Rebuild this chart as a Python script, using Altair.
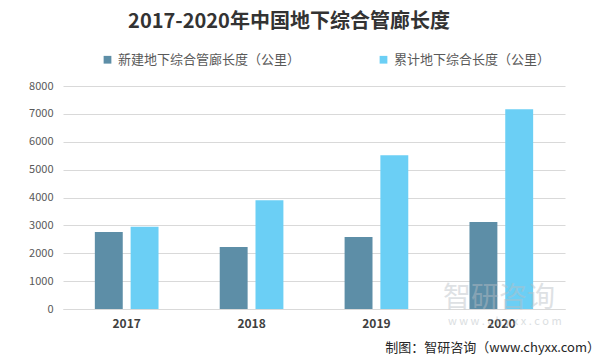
import altair as alt
import pandas as pd

years = ["2017", "2018", "2019", "2020"]
series = ["新建地下综合管廊长度（公里）", "累计地下综合长度（公里）"]
new_len = [2760, 2220, 2580, 3120]
cum_len = [2950, 3900, 5520, 7170]
colors = ["#5d8ea7", "#6bcff5"]
y_ticks = [0, 1000, 2000, 3000, 4000, 5000, 6000, 7000, 8000]
title_text = "2017-2020年中国地下综合管廊长度"
source_text = "制图：智研咨询（www.chyxx.com）"
watermark = "智研咨询"
watermark_url = "w w w . c h y x x . c o m"

rows = []
for i, y in enumerate(years):
    rows.append({"year": y, "series": series[0], "value": new_len[i]})
    rows.append({"year": y, "series": series[1], "value": cum_len[i]})
df = pd.DataFrame(rows)

FONT = "Noto Sans CJK SC"

bars = alt.Chart(df).mark_bar().encode(
    x=alt.X("year:N", sort=years,
            scale=alt.Scale(paddingInner=0.49, paddingOuter=0.255),
            axis=alt.Axis(title=None, labelAngle=0, labelFontWeight="bold",
                          labelFontSize=12, labelColor="#404040", labelFont=FONT,
                          domainColor="#d9d9d9", ticks=False, labelPadding=9)),
    xOffset=alt.XOffset("series:N", sort=series,
                        scale=alt.Scale(paddingInner=0.22, paddingOuter=0)),
    y=alt.Y("value:Q", scale=alt.Scale(domain=[0, 8000]),
            axis=alt.Axis(values=y_ticks, format="d", title=None, domain=False, ticks=False,
                          gridColor="#d9d9d9", labelColor="#595959", labelFontSize=11,
                          labelPadding=10, labelFont=FONT)),
    color=alt.Color("series:N", sort=series,
                    scale=alt.Scale(domain=series, range=colors),
                    legend=alt.Legend(title=None, orient="none", direction="horizontal",
                                      legendX=38, legendY=-33, symbolType="square",
                                      symbolSize=60, symbolStrokeWidth=0,
                                      labelFontSize=13, labelColor="#595959",
                                      labelFont=FONT, columnPadding=76,
                                      labelLimit=300)),
)

ttl = alt.Chart(pd.DataFrame({"t": [title_text]})).mark_text(
    align="center", baseline="middle", fontSize=20, font=FONT, fontWeight="bold",
    color="#333333"
).encode(x=alt.value(226), y=alt.value(-64), text="t:N")

src = alt.Chart(pd.DataFrame({"t": [source_text]})).mark_text(
    align="right", baseline="middle", fontSize=13, font=FONT, color="#262626"
).encode(x=alt.value(537), y=alt.value(262), text="t:N")

wm = alt.Chart(pd.DataFrame({"t": [watermark]})).mark_text(
    align="left", baseline="middle", fontSize=28, font=FONT, color="#b8bec4", opacity=0.45
).encode(x=alt.value(380), y=alt.value(213), text="t:N")

wm2 = alt.Chart(pd.DataFrame({"t": [watermark_url]})).mark_text(
    align="left", baseline="middle", fontSize=11, font=FONT, color="#b8bec4", opacity=0.5
).encode(x=alt.value(385), y=alt.value(236), text="t:N")

chart = alt.layer(bars, wm, wm2, ttl, src).properties(
    width=502, height=223,
    padding={"left": 55, "top": 78, "right": 32, "bottom": 47},
    autosize=alt.AutoSizeParams(type="none"),
    background="white",
).configure_view(stroke=None)

chart.save("out.html", embed_options={"renderer": "svg", "actions": False})
